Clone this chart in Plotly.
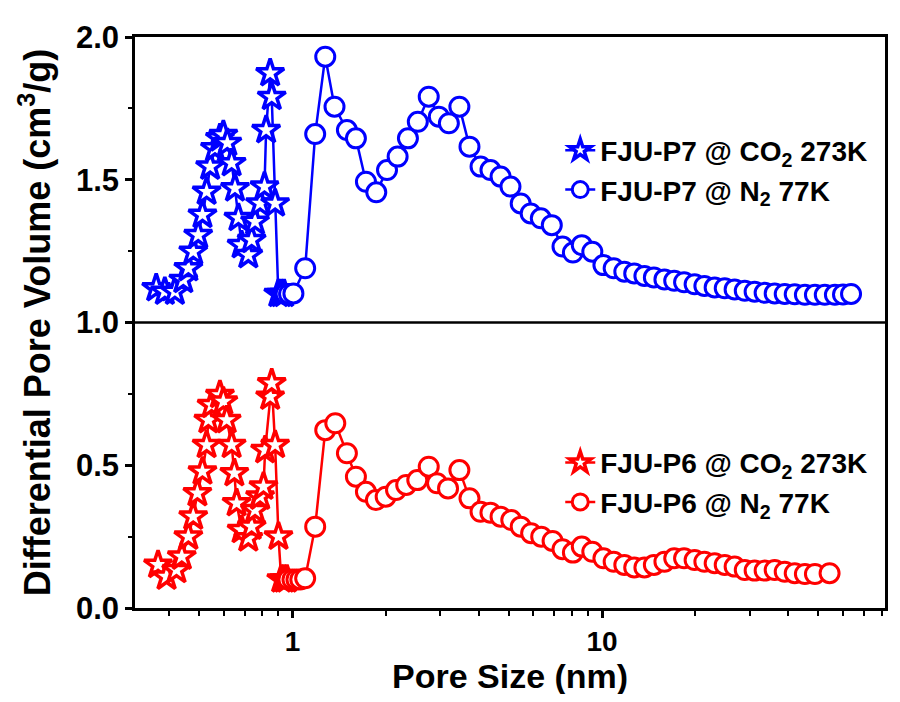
import plotly.graph_objects as go
import numpy as np

# FJU-P7 @ CO2 273K (blue stars)
p7_co2_x = [0.363, 0.387, 0.417, 0.444, 0.461, 0.478, 0.496, 0.512, 0.528, 0.542, 0.562, 0.583,
            0.598, 0.616, 0.636, 0.652, 0.669, 0.685, 0.720, 0.738, 0.757, 0.786, 0.812, 0.822,
            0.847, 0.857, 0.879, 0.900, 0.920, 0.940]
p7_co2_y = [1.120, 1.108, 1.108, 1.149, 1.190, 1.248, 1.306, 1.377, 1.458, 1.546, 1.610, 1.645,
            1.657, 1.629, 1.558, 1.470, 1.366, 1.271, 1.236, 1.289, 1.353, 1.417, 1.476, 1.674,
            1.873, 1.790, 1.417, 1.100, 1.100, 1.100]

# FJU-P7 @ N2 77K (blue circles)
p7_n2_x = [0.950, 0.975, 1.007, 1.099, 1.184, 1.276, 1.367, 1.499, 1.603, 1.727, 1.865, 2.02,
           2.186, 2.36, 2.54, 2.755, 2.97, 3.20, 3.46, 3.73, 4.05, 4.36, 4.70, 5.06, 5.46, 5.88,
           6.34, 6.88, 7.45, 8.05, 8.6, 9.3, 10.1, 10.9, 11.8, 12.7, 13.7, 14.7, 15.9, 17.1,
           18.4, 19.9, 21.4, 23.1, 24.9, 26.8, 28.9, 31.1, 33.5, 36.1, 38.9, 41.9, 45.2, 48.7,
           52.4, 56.5, 60.0, 63.7]
p7_n2_y = [1.100, 1.100, 1.102, 1.190, 1.660, 1.931, 1.756, 1.674, 1.645, 1.493, 1.456, 1.534,
           1.581, 1.645, 1.703, 1.791, 1.721, 1.698, 1.756, 1.616, 1.546, 1.534, 1.511, 1.476,
           1.417, 1.382, 1.365, 1.341, 1.266, 1.245, 1.271, 1.248, 1.201, 1.190, 1.178, 1.172,
           1.163, 1.158, 1.151, 1.146, 1.141, 1.134, 1.128, 1.123, 1.120, 1.116, 1.111, 1.108,
           1.104, 1.102, 1.100, 1.099, 1.097, 1.097, 1.097, 1.097, 1.098, 1.100]

# FJU-P6 @ CO2 273K (red stars)
p6_co2_x = [0.368, 0.392, 0.422, 0.439, 0.461, 0.478, 0.493, 0.512, 0.528, 0.535, 0.548, 0.583,
            0.598, 0.613, 0.636, 0.649, 0.660, 0.685, 0.720, 0.738, 0.757, 0.786, 0.806, 0.816,
            0.847, 0.857, 0.879, 0.901, 0.920, 0.940, 0.960]
p6_co2_y = [0.151, 0.110, 0.133, 0.180, 0.250, 0.320, 0.402, 0.478, 0.571, 0.658, 0.711, 0.746,
            0.723, 0.658, 0.571, 0.472, 0.367, 0.273, 0.244, 0.285, 0.343, 0.390, 0.425, 0.553,
            0.740, 0.787, 0.571, 0.250, 0.100, 0.100, 0.100]

# FJU-P6 @ N2 77K (red circles)
p6_n2_x = [0.970, 1.000, 1.030, 1.060, 1.099, 1.184, 1.276, 1.375, 1.499, 1.603, 1.727, 1.86,
           2.00, 2.16, 2.33, 2.53, 2.755, 2.93, 3.18, 3.46, 3.73, 4.05, 4.36, 4.70, 5.09, 5.46,
           5.90, 6.36, 6.92, 7.45, 8.05, 8.6, 9.3, 10.1, 10.9, 11.8, 12.7, 13.7, 14.7, 15.9,
           17.1, 18.4, 19.9, 21.4, 23.1, 24.9, 26.8, 28.9, 31.1, 33.5, 36.1, 38.9, 41.9, 45.2,
           48.7, 54.3]
p6_n2_y = [0.100, 0.100, 0.100, 0.100, 0.104, 0.285, 0.623, 0.647, 0.542, 0.460, 0.407, 0.378,
           0.390, 0.413, 0.431, 0.448, 0.495, 0.437, 0.419, 0.483, 0.384, 0.337, 0.334, 0.320,
           0.308, 0.285, 0.262, 0.250, 0.235, 0.206, 0.194, 0.215, 0.197, 0.174, 0.162, 0.151,
           0.142, 0.142, 0.151, 0.162, 0.174, 0.174, 0.168, 0.162, 0.157, 0.151, 0.145, 0.133,
           0.131, 0.131, 0.133, 0.127, 0.122, 0.119, 0.119, 0.122]

x_ticks = [1, 10]
x_minor = [0.4, 0.5, 0.6, 0.7, 0.8, 0.9, 2, 3, 4, 5, 6, 7, 8, 9, 20, 30, 40, 50, 60, 70, 80]
y_ticks = [0.0, 0.5, 1.0, 1.5, 2.0]

BLUE = "#0000FF"
RED = "#FF0000"
FONT = "Liberation Sans, Arial, sans-serif"

fig = go.Figure()

def add(x, y, name, color, symbol, size, lw, legend, group):
    fig.add_trace(go.Scatter(
        x=x, y=y, mode="lines+markers", name=name, legend=legend, legendgroup=group,
        line=dict(color=color, width=2.5),
        marker=dict(symbol=symbol, size=size, color="white",
                    line=dict(color=color, width=lw)),
    ))

add(p7_co2_x, p7_co2_y, "FJU-P7 @ CO<sub>2</sub> 273K", BLUE, "star", 21, 3.5, "legend", "a")
add(p7_n2_x, p7_n2_y, "FJU-P7 @ N<sub>2</sub> 77K", BLUE, "circle", 19, 3, "legend", "b")
add(p6_co2_x, p6_co2_y, "FJU-P6 @ CO<sub>2</sub> 273K", RED, "star", 21, 3.5, "legend2", "c")
add(p6_n2_x, p6_n2_y, "FJU-P6 @ N<sub>2</sub> 77K", RED, "circle", 19, 3, "legend2", "d")

fig.add_shape(type="line", xref="paper", yref="y", x0=0, x1=1, y0=1.0, y1=1.0,
              line=dict(color="black", width=2.5))

# x-axis title placed as an annotation for exact vertical position
fig.add_annotation(text="Pore Size (nm)", xref="paper", yref="paper", x=0.5, y=0,
                   xanchor="center", yanchor="middle", yshift=-68, showarrow=False,
                   font=dict(family=FONT, size=34, color="black", weight="bold"))

legend_common = dict(
    xanchor="left", yanchor="top", bgcolor="rgba(0,0,0,0)",
    font=dict(family=FONT, size=28, color="black", weight="bold"),
    tracegroupgap=0, itemsizing="trace",
)

# page body adds an 8px offset, so the figure is sized to fit inside the window
fig.update_layout(
    width=884, height=686,
    margin=dict(l=127, r=7, t=29, b=86),
    paper_bgcolor="white", plot_bgcolor="white",
    font=dict(family=FONT, color="black"),
    showlegend=True,
    legend=dict(x=0.567, y=0.845, **legend_common),
    legend2=dict(x=0.567, y=0.298, **legend_common),
    xaxis=dict(
        type="log", range=[np.log10(0.31), np.log10(82)], automargin=False,
        tickmode="array", tickvals=x_ticks, ticktext=["1", "10"],
        ticks="outside", ticklen=7, tickwidth=2.5, tickcolor="black",
        minor=dict(tickmode="array", tickvals=x_minor, ticks="outside", ticklen=5,
                   tickwidth=2, tickcolor="black", showgrid=False),
        showline=True, linewidth=2.5, linecolor="black", mirror=True,
        showgrid=False, zeroline=False,
        tickfont=dict(family=FONT, size=28, color="black", weight="bold"),
    ),
    yaxis=dict(
        range=[0, 2.0], automargin=False,
        tickmode="array", tickvals=y_ticks, ticktext=["0.0", "0.5", "1.0", "1.5", "2.0"],
        ticks="outside", ticklen=7, tickwidth=2.5, tickcolor="black",
        minor=dict(dtick=0.25, ticks="outside", ticklen=4, tickwidth=2,
                   tickcolor="black", showgrid=False),
        showline=True, linewidth=2.5, linecolor="black", mirror=True,
        showgrid=False, zeroline=False,
        tickfont=dict(family=FONT, size=31, color="black", weight="bold"),
        title=dict(text="Differential Pore Volume (cm<sup>3</sup>/g)",
                   font=dict(family=FONT, size=36, color="black", weight="bold")),
    ),
)

fig.write_html("out.html")
